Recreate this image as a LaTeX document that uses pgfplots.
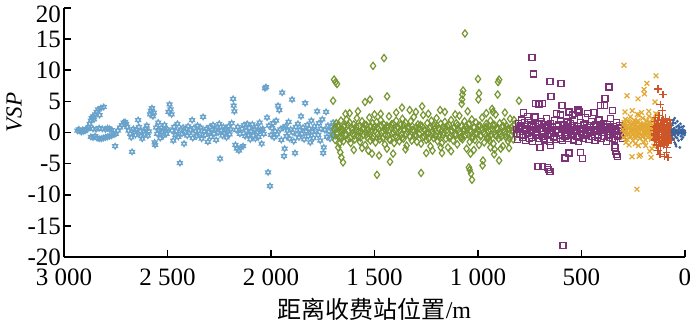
\documentclass[border=0pt]{standalone}
\usepackage{pgfplots}
\pgfplotsset{compat=1.18}
\usepackage{fontspec}
\setmainfont{Liberation Serif}
\newfontfamily\cjk{Noto Sans CJK SC}
\definecolor{cstar}{RGB}{105,163,204}
\definecolor{cgreen}{RGB}{119,150,50}
\definecolor{cpurple}{RGB}{125,50,120}
\definecolor{corange}{RGB}{226,168,50}
\definecolor{cred}{RGB}{205,85,40}
\definecolor{cdot}{RGB}{55,100,160}
\pgfdeclareplotmark{hexstar}{%
 \pgfpathmoveto{\pgfqpointpolar{90}{\pgfplotmarksize}}%
 \pgfpathlineto{\pgfqpointpolar{210}{\pgfplotmarksize}}%
 \pgfpathlineto{\pgfqpointpolar{330}{\pgfplotmarksize}}%
 \pgfpathclose
 \pgfpathmoveto{\pgfqpointpolar{270}{\pgfplotmarksize}}%
 \pgfpathlineto{\pgfqpointpolar{30}{\pgfplotmarksize}}%
 \pgfpathlineto{\pgfqpointpolar{150}{\pgfplotmarksize}}%
 \pgfpathclose
 \pgfusepathqstroke}
\begin{document}
\begin{tikzpicture}
\begin{axis}[name=ax,
  scale only axis, width=310.5pt, height=124.5pt,
  x dir=reverse, xmin=0, xmax=3000, ymin=-20, ymax=20,
  xtick={0,500,...,3000}, ytick={-20,-15,...,15},
  extra y ticks={20},
  extra y tick style={yticklabel style={yshift=-3pt}},
  axis lines=left, axis line style={-, line width=0.8pt},
  tick align=inside, major tick length=3.5pt,
  tick style={line width=0.8pt, black},
  /pgf/number format/assume math mode=true,
  /pgf/number format/1000 sep={\ },
  tick label style={font=\fontsize{12.5}{14}\selectfont},
  xticklabel style={yshift=-2.5pt},
  yticklabel style={xshift=2pt},
  xlabel style={font=\fontsize{12}{14}\selectfont, yshift=1pt},
  ylabel style={font=\fontsize{11.5}{14}\selectfont, at={(ticklabel cs:0.58)}, yshift=-4pt},
  xlabel={{\cjk 距离收费站位置}/m},
  ylabel={\textit{VSP}},
  clip=false,
  only marks,
]
% light blue stars
\addplot[cstar, mark=hexstar, mark size=1.45pt, line width=0.55pt] coordinates {
(2935,0.3)(2928,0.5)(2922,0.2)(2915,0.1)(2910,0.4)(2905,0.2)(2898,0.3)(2893,0.6)(2888,0.5)(2882,0.8)
(2876,1.4)(2870,1.9)(2866,2.3)(2860,2.6)(2855,2.1)(2848,2.9)(2842,3.3)(2835,3.7)(2828,2.8)(2822,3.9)(2808,4.1)
(2870,-0.7)(2860,-0.8)(2850,-0.6)(2840,-0.9)(2830,-1.0)(2820,-1.0)(2810,-0.9)(2800,-0.8)(2790,-0.7)(2780,-0.6)(2770,-0.5)(2760,-0.3)(2750,-0.2)
(2860,0.6)(2845,0.5)(2830,0.7)(2815,0.6)(2800,0.5)(2790,0.7)(2780,0.6)(2770,0.4)(2753,-2.2)
(2740,0.3)(2730,0.8)(2720,1.2)(2712,1.6)(2705,1.7)(2700,1.4)(2695,0.9)(2688,0.3)(2680,-0.2)(2675,-0.8)(2671,-3.1)(2665,0.6)(2660,0.1)(2655,-0.4)(2650,0.4)(2642,2.0)(2638,0.9)(2632,0.2)(2628,-0.6)(2622,-1.0)(2615,0.3)(2610,-0.3)(2605,0.6)(2600,1.1)(2595,-0.5)(2590,0.2)(2584,2.9)(2580,3.5)(2575,3.9)(2570,2.6)(2566,3.2)(2562,-1.6)(2560,-2.0)(2555,0.8)(2550,-0.2)(2545,1.6)(2540,0.4)(2535,-0.9)(2530,0.7)(2525,0.1)(2520,-0.5)(2515,1.2)(2510,0.3)(2505,-0.2)(2500,0.5)(2495,3.3)(2490,4.5)(2485,3.7)(2480,2.9)(2478,0.3)(2472,-1.3)(2468,0.9)(2462,-0.4)(2458,0.2)(2452,1.4)(2448,-0.7)(2440,-4.9)(2436,0.5)(2430,-0.2)(2425,0.8)(2420,-1.8)(2415,0.1)(2410,0.6)(2405,-0.5)(2400,1.0)(2395,-0.1)(2390,0.4)(2381,2.0)(2378,-0.9)(2372,0.7)(2365,0.2)(2360,-0.6)(2355,1.1)(2350,0.3)(2345,-0.3)(2340,0.8)(2335,-1.0)(2328,2.5)(2322,0.2)(2318,-0.4)(2312,0.6)(2305,-1.5)(2300,0.1)(2295,0.9)(2290,-0.7)(2285,0.4)(2280,1.2)(2275,-0.2)(2270,0.5)(2265,-1.2)(2260,0.8)(2255,0.0)(2250,1.4)(2246,-4.2)(2240,0.3)(2235,-0.5)(2230,0.9)(2225,-0.1)(2220,0.6)(2215,-0.8)(2210,0.2)(2205,1.0)(2200,-0.3)(2195,0.5)(2190,1.5)(2183,5.4)(2180,4.3)(2177,3.4)(2172,-2.0)(2168,0.4)(2165,-2.6)(2160,0.9)(2155,-2.9)(2150,-0.2)(2145,-2.4)(2140,0.6)(2135,-2.2)(2130,1.2)(2125,-0.6)(2120,0.3)(2115,1.4)(2110,-0.4)(2105,0.7)(2100,-1.1)(2095,0.2)(2090,1.3)(2085,-0.5)(2080,0.5)(2075,-1.0)(2070,0.9)(2065,0.1)(2060,-0.7)(2055,1.6)(2050,0.4)(2045,-1.8)(2040,0.6)(2035,-0.2)(2029,7.1)(2024,7.3)(2019,2.4)(2014,-6.4)(2010,1.1)(2005,-8.6)(2000,-0.4)(1995,0.7)(1990,1.5)(1985,-0.8)(1980,0.2)(1975,1.9)(1970,-0.3)(1966,4.3)(1960,3.6)(1955,0.5)(1950,-1.2)(1946,6.4)(1940,0.8)(1937,-3.8)(1934,-2.6)(1930,1.0)(1925,-0.6)(1920,0.3)(1915,1.7)(1910,-1.0)(1905,0.5)(1898,5.3)(1894,0.0)(1890,-1.4)(1884,-3.3)(1880,0.9)(1875,-0.3)(1870,1.4)(1865,-0.8)(1860,0.4)(1855,2.6)(1850,-0.2)(1845,0.8)(1840,-1.1)(1835,4.7)(1830,0.2)(1825,1.2)(1820,-0.6)(1815,0.6)(1810,-1.6)(1805,1.9)(1800,0.1)(1795,-0.9)(1790,1.0)(1785,0.3)(1777,3.4)(1772,-0.4)(1768,1.5)(1762,-1.3)(1758,0.6)(1752,2.1)(1748,-3.3)(1745,-2.4)(1740,0.4)(1734,3.3)(1730,-0.7)(1725,1.1)(1720,0.2)(1715,-1.0)(1710,0.9)(1705,-0.3)(1700,1.6)(1695,0.5)(1690,-0.6)
};
% green diamonds
\addplot[cgreen, mark=diamond, mark size=1.8pt, line width=0.6pt] coordinates {
(1695,0.6)(1690,-1.2)(1685,1.5)(1680,-0.3)(1675,0.9)(1670,-1.8)(1666,0.2)(1662,1.9)(1658,-0.9)(1654,0.5)
(1650,-1.4)(1645,1.1)(1640,-0.5)(1635,2.1)(1630,-1.0)(1625,0.3)(1620,1.6)(1615,-1.7)(1610,0.8)(1605,-0.2)
(1600,1.3)(1595,-1.1)(1590,0.4)(1585,2.3)(1580,-0.7)(1575,1.0)(1570,-1.5)(1565,0.1)(1560,1.8)(1555,-0.4)
(1550,0.7)(1545,-2.0)(1540,1.2)(1535,-0.8)(1530,0.5)(1525,2.4)(1520,-1.3)(1515,0.2)(1510,1.5)(1505,-0.6)
(1500,0.9)(1495,-1.6)(1490,1.7)(1485,-0.2)(1480,0.6)(1475,-1.1)(1470,2.0)(1465,0.0)(1460,-0.9)(1455,1.3)
(1450,-1.9)(1445,0.4)(1440,1.1)(1435,-0.5)(1430,2.6)(1425,-1.2)(1420,0.8)(1415,-0.1)(1410,1.4)(1405,-1.7)
(1400,0.3)(1395,1.9)(1390,-0.8)(1385,0.7)(1380,-1.4)(1375,1.2)(1370,-0.3)(1365,2.2)(1360,-1.0)(1355,0.5)
(1350,1.6)(1345,-2.1)(1340,0.1)(1335,0.9)(1330,-0.6)(1325,1.8)(1320,-1.3)(1315,0.4)(1310,2.5)(1305,-0.4)
(1300,0.8)(1295,-1.5)(1290,1.3)(1285,-0.2)(1280,0.6)(1275,-1.8)(1270,1.0)(1265,2.8)(1260,-0.7)(1255,0.3)
(1250,-1.2)(1245,1.5)(1240,-0.1)(1235,0.7)(1230,-2.2)(1225,1.9)(1220,0.2)(1215,-0.9)(1210,1.1)(1205,-0.5)
(1200,2.3)(1195,-1.4)(1190,0.6)(1185,-0.3)(1180,1.4)(1175,-1.7)(1170,0.9)(1165,0.0)(1160,1.7)(1155,-1.0)
(1150,0.4)(1145,-2.4)(1140,1.2)(1135,-0.6)(1130,2.0)(1125,0.3)(1120,-1.3)(1115,0.8)(1110,-0.2)(1105,1.5)
(1100,-1.9)(1095,0.5)(1090,2.7)(1085,-0.8)(1080,1.0)(1075,-1.1)(1070,0.2)(1065,1.8)(1060,-0.4)(1055,-2.6)
(1050,0.7)(1045,1.3)(1040,-1.5)(1035,0.1)(1030,2.1)(1025,-0.7)(1020,0.9)(1015,-1.2)(1010,1.6)(1005,-0.2)
(1000,0.4)(995,-2.0)(990,1.1)(985,-0.5)(980,2.4)(975,0.0)(970,-1.6)(965,0.8)(960,1.4)(955,-0.9)
(950,0.3)(945,-1.3)(940,1.9)(935,-0.3)(930,0.6)(925,-1.8)(920,1.2)(915,2.9)(910,-0.6)(905,0.5)
(900,-1.0)(895,1.5)(890,-0.2)(885,0.9)(880,-2.2)(875,1.7)(870,0.2)(865,-0.8)(860,1.0)(855,-1.4)
(850,0.6)(845,2.2)(840,-0.5)(835,0.3)(830,-1.1)(825,1.3)(820,-0.3)
(1698,-0.4)(1688,0.8)(1678,1.1)(1668,-0.7)(1658,0.3)(1648,0.9)(1638,-0.2)(1628,1.2)(1618,-0.9)(1608,0.4)
(1598,-0.5)(1588,1.0)(1578,0.2)(1568,-0.8)(1558,0.6)(1548,1.3)(1538,-0.3)(1528,0.0)(1518,1.0)(1508,-1.0)
(1498,0.3)(1488,0.8)(1478,-0.6)(1468,1.1)(1458,0.2)(1448,-0.4)(1438,0.7)(1428,-1.1)(1418,1.3)(1408,0.0)
(1398,-0.6)(1388,0.9)(1378,0.3)(1368,-0.9)(1358,1.2)(1348,-0.2)(1338,0.6)(1328,-0.7)(1318,1.0)(1308,0.2)
(1298,-0.5)(1288,0.7)(1278,1.2)(1268,-0.8)(1258,0.4)(1248,0.0)(1238,-1.0)(1228,0.9)(1218,-0.3)(1208,0.6)
(1198,1.1)(1188,-0.7)(1178,0.2)(1168,-0.4)(1158,0.8)(1148,1.0)(1138,-0.9)(1128,0.3)(1118,0.7)(1108,-0.5)
(1098,1.2)(1088,0.1)(1078,-0.8)(1068,0.6)(1058,1.0)(1048,-0.3)(1038,0.4)(1028,-1.0)(1018,0.8)(1008,0.0)
(998,1.1)(988,-0.6)(978,0.5)(968,-0.2)(958,0.9)(948,-0.9)(938,0.3)(928,1.2)(918,-0.4)(908,0.7)
(898,0.1)(888,-0.7)(878,1.0)(868,-0.3)(858,0.5)(848,-1.0)(838,0.8)(828,0.2)
(1620,3.1)(1600,-2.8)(1580,3.4)(1560,-2.5)(1470,3.0)(1440,-2.6)(1395,3.2)(1350,-2.7)(1330,3.6)(1240,3.0)(1220,-2.9)(1160,3.3)(1130,-3.0)(1110,2.9)(1050,3.4)(1020,-2.8)(960,3.1)(920,-2.7)(870,3.2)(850,-2.5)(1250,-3.3)(1180,-2.4)(1500,2.9)(1640,3.0)(1675,-2.4)
(1695,8.5)(1688,8.1)(1681,7.8)(1700,5.1)(1665,-3.2)(1660,-4.0)(1652,-4.8)(1546,4.9)(1522,5.3)(1507,10.7)(1454,11.95)(1439,5.8)(1367,4.0)(1270,4.2)(1488,-6.8)(1275,-6.5)(1530,-2.9)(1512,-3.4)(1478,-3.7)(1425,-4.7)(1410,-3.4)(1300,3.3)
(1063,15.9)(1000,8.6)(898,8.5)(903,8.1)(1072,6.75)(1075,6.1)(1077,5.3)(1079,4.6)(995,6.3)(998,5.3)(905,6.1)(802,5.1)(1183,3.6)(932,3.8)(928,3.3)(826,2.0)(1029,-7.6)(1034,-6.6)(1040,-6.0)(1044,-5.6)(1036,-3.4)(976,-4.5)(978,-5.3)(922,-3.5)(898,-4.5)(890,-2.6)(940,-2.4)(1174,-3.3)
};
% purple squares
\addplot[cpurple, mark=square, mark size=1.5pt, line width=0.6pt] coordinates {
(815,0.5)(810,-1.1)(805,1.4)(800,-0.3)(795,0.9)(790,2.0)(785,-0.8)(780,0.2)(775,1.6)(770,-1.3)
(765,0.6)(760,-0.2)(755,1.9)(750,-0.9)(745,0.4)(740,1.2)(735,-1.5)(730,0.8)(725,2.5)(720,-0.5)
(715,0.1)(710,1.3)(705,-1.0)(700,0.7)(695,1.8)(690,-0.6)(685,0.3)(680,-1.2)(675,1.0)(670,2.2)
(665,-0.4)(660,0.6)(655,-1.4)(650,1.5)(645,-0.1)(640,0.9)(635,-0.8)(630,1.9)(625,0.2)(620,-1.1)
(615,0.5)(610,1.2)(605,-0.5)(600,2.8)(595,0.0)(590,-1.3)(585,1.1)(580,-0.7)(575,0.4)(570,1.7)
(565,-1.0)(560,0.3)(555,1.4)(550,-0.4)(545,0.8)(540,-1.2)(535,2.1)(530,0.1)(525,-0.6)(520,1.0)
(515,-1.5)(510,0.6)(505,1.6)(500,-0.2)(495,0.7)(490,-0.9)(485,1.3)(480,2.4)(475,-0.5)(470,0.4)
(465,-1.1)(460,1.1)(455,0.0)(450,1.8)(445,-0.7)(440,0.5)(435,-1.3)(430,1.2)(425,0.2)(420,-0.4)
(415,2.0)(410,0.8)(405,-1.0)(400,0.3)(395,1.5)(390,-0.6)(385,0.9)(380,-1.4)(375,1.3)(370,0.1)
(365,-0.8)(360,2.3)(355,0.6)(350,-0.3)(345,1.0)(340,-1.2)(335,0.4)(330,1.6)(325,-0.7)(320,0.2)
(315,1.1)(310,-0.5)(305,0.7)(300,-1.0)
(812,-0.2)(802,0.7)(792,1.1)(782,-0.5)(772,0.4)(762,1.3)(752,0.0)(742,-0.8)(732,0.5)(722,1.0)
(712,-0.3)(702,1.5)(692,0.2)(682,-0.9)(672,0.8)(662,1.2)(652,-0.2)(642,0.3)(632,-0.6)(622,1.0)
(612,0.0)(602,-0.9)(592,0.7)(582,1.3)(572,-0.4)(562,0.9)(552,0.2)(542,-0.5)(532,1.1)(522,0.4)
(512,-0.8)(502,0.5)(492,1.2)(482,-0.3)(472,0.8)(462,0.1)(452,-0.6)(442,1.0)(432,0.3)(422,-0.8)
(412,0.6)(402,1.2)(392,0.0)(382,0.5)(372,-0.4)(362,0.9)(352,-0.9)(342,0.7)(332,0.1)(322,-0.4)
(312,0.8)(302,0.3)
(739,12.0)(733,9.4)(652,8.2)(599,7.9)(647,5.8)(367,7.3)(386,5.5)(390,4.3)(724,4.6)(705,4.5)(690,4.6)(594,4.4)(517,3.6)(510,3.3)(589,-18.2)(710,-5.5)(690,-5.5)(665,-5.6)(652,-6.3)(660,-6.0)(580,-4.1)(560,-3.3)(497,-4.2)(505,-3.2)(338,-2.4)(335,-3.0)(330,-3.5)(328,-3.9)(700,-2.4)(650,-2.1)(350,3.5)(410,4.4)(440,3.2)(470,3.0)(780,3.2)(760,2.6)(620,3.0)(560,3.3)(545,2.8)
};
% orange crosses
\addplot[corange, mark=x, mark size=1.7pt, line width=0.6pt] coordinates {
(300,0.5)(297,-0.8)(294,1.6)(291,0.2)(288,2.1)(285,-0.4)(282,1.0)(279,-1.1)(276,0.7)(273,1.8)
(270,-0.2)(267,0.9)(264,2.5)(261,-0.7)(258,0.4)(255,1.3)(252,-1.3)(249,0.6)(246,2.0)(243,0.0)
(240,1.1)(237,-0.9)(234,0.3)(231,1.7)(228,-0.5)(225,0.8)(222,2.8)(219,-1.0)(216,0.5)(213,1.4)
(210,-0.3)(207,0.9)(204,2.3)(201,-0.6)(198,0.2)(195,1.2)(192,-1.2)(189,0.7)(186,1.9)(183,0.1)
(180,-0.8)(177,1.0)(174,2.6)(171,-0.4)(168,0.6)(165,1.5)(162,-1.1)(159,0.3)(156,2.2)(153,0.8)
(150,-0.6)(147,1.3)(144,0.0)(141,3.0)(138,-1.4)(135,0.5)(132,1.8)(129,-0.2)(126,0.9)(123,-0.9)
(299,1.2)(295,0.0)(290,0.9)(286,1.4)(281,0.3)(277,-0.3)(272,0.6)(268,1.5)(263,0.2)(259,1.0)
(254,-0.4)(250,1.6)(245,0.4)(241,-0.5)(236,1.3)(232,0.8)(227,1.9)(223,-0.2)(218,0.7)(214,1.1)
(209,0.4)(205,-0.6)(200,1.4)(196,0.9)(191,0.1)(187,-0.4)(182,1.2)(178,0.5)(173,1.7)(169,0.0)
(164,0.9)(160,-0.5)(155,1.1)(151,0.4)(146,-0.2)(142,1.6)(137,0.7)(133,-0.4)(128,1.1)(124,0.3)
(290,3.3)(270,-2.0)(255,3.5)(240,-1.8)(210,3.2)(190,-2.1)(175,3.4)(150,-2.2)(135,2.9)(285,-1.6)(230,2.9)(200,-1.5)
(295,10.8)(140,9.1)(184,7.9)(198,6.9)(196,6.2)(280,5.9)(227,5.4)(145,4.9)(256,-3.9)(222,-3.8)(215,-3.6)(164,-4.0)(160,-2.6)(232,-9.1)(225,-2.1)(170,-3.0)
};
% red plus
\addplot[cred, mark=+, mark size=1.9pt, line width=0.65pt] coordinates {
(150,0.3)(148,-1.2)(146,1.8)(144,-0.4)(142,2.4)(140,0.8)(138,-2.0)(136,1.1)(134,-0.7)(132,0.2)
(130,1.5)(128,-1.6)(126,2.7)(124,0.4)(122,-0.9)(120,1.3)(118,-2.3)(116,0.6)(114,1.9)(112,-0.3)
(110,0.9)(108,-1.4)(106,2.1)(104,0.0)(102,-1.8)(100,1.2)(98,-0.5)(96,0.7)(94,2.3)(92,-1.1)
(90,0.4)(88,-2.4)(86,1.6)(84,-0.2)(82,1.0)(80,-1.5)(78,0.5)(76,2.0)(74,-0.8)(72,0.3)
(70,1.1)(68,-1.0)(66,0.6)(64,-0.4)
(149,1.0)(145,-0.2)(141,-1.0)(137,0.5)(133,1.9)(129,0.1)(125,-1.3)(121,0.9)(117,1.4)(113,-0.6)(109,0.2)(105,-2.0)(101,1.7)(97,0.5)(93,-0.4)(89,1.3)(85,-1.7)(81,0.8)(77,-0.3)(73,1.4)(69,0.1)(65,-1.2)
(130,7.0)(106,6.1)(120,4.5)(110,3.5)(121,-3.5)(100,-3.8)(82,-4.0)(130,-2.9)(90,-3.2)
};
% blue dots
\addplot[cdot, mark=*, mark size=0.5pt] coordinates {
(64,0.3)(62,-0.5)(61,1.2)(59,0.1)(58,-1.0)(56,0.5)(55,2.0)(53,-0.3)(52,0.7)(50,-1.6)
(49,0.2)(47,1.5)(46,-0.7)(44,0.4)(43,-2.2)(41,0.9)(40,0.0)(38,-0.9)(37,1.8)(35,0.3)
(34,-0.4)(32,1.1)(31,-1.3)(29,0.6)(28,-0.1)(26,0.8)(25,-2.4)(23,0.2)(22,1.4)(20,-0.6)
(19,0.4)(17,-1.1)(16,0.9)(14,0.0)(13,-0.3)(11,0.5)(10,-0.8)(8,0.2)(7,1.0)(5,-0.2)
(4,0.1)(2,-0.4)(1,0.3)(0,0.0)
(63,0.0)(60,0.2)(57,-0.1)(54,0.1)(51,-0.2)(48,0.0)(45,0.1)(42,-0.1)(39,0.2)(36,0.0)(33,-0.1)(30,0.1)(27,0.0)(24,-0.1)(21,0.1)(18,0.0)(15,-0.1)(12,0.0)(9,0.1)(6,0.0)(3,-0.1)(50,2.3)(45,-1.9)(58,1.6)
};
\end{axis}
\pgfresetboundingbox
\path[use as bounding box] ([shift={(-32pt,-35.5pt)}]ax.south west) rectangle ([shift={(7.5pt,4pt)}]ax.north east);
\end{tikzpicture}
\end{document}
